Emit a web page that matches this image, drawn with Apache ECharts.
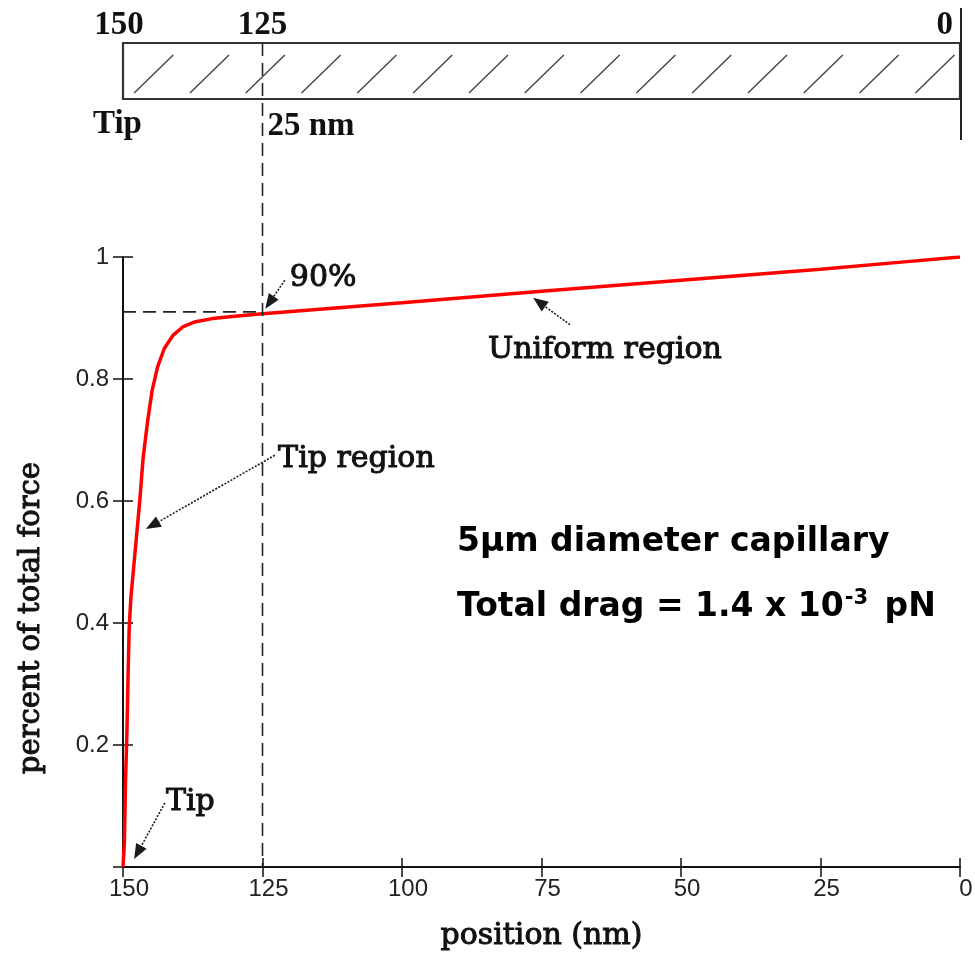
<!DOCTYPE html>
<html>
<head>
<meta charset="utf-8">
<script src="https://cdn.jsdelivr.net/npm/echarts@6/dist/echarts.min.js"></script>
<style>
  html, body { margin: 0; padding: 0; background: #fff; }
  #chart { width: 975px; height: 955px; }
</style>
</head>
<body>
<div id="chart"></div>
<script>
// Position along the capillary (nm, 150 = tip) and cumulative fraction of drag force
const positionNm = [150, 149.75, 149.55, 149.3, 149.1, 148.9, 148.6, 148.2, 147.7, 147.0, 146.4,
  145.6, 144.8, 143.8, 142.6, 141.0, 139.2, 137.0, 134.0, 130.0, 125.0, 100, 75, 50, 25, 10, 0];
const forceFraction = [0, 0.04, 0.14, 0.22, 0.31, 0.39, 0.44, 0.48, 0.53, 0.60, 0.67,
  0.73, 0.78, 0.82, 0.85, 0.872, 0.886, 0.894, 0.899, 0.903, 0.907, 0.925, 0.944, 0.962, 0.980, 0.992, 1.0];

// Axis ranges
const xRange = [0, 150];
const xStep = 25;
const yRange = [0, 1];
const yStep = 0.2;

// Tip-region boundary and the force fraction reached there
const tipBoundary = 125;
const tipFraction = 0.91;

// Hatch marks across the capillary sketch (start positions, nm)
const hatchStarts = [148, 138, 128, 118, 108, 98, 88, 78, 68, 58, 48, 38, 28, 18, 8];
const hatchSpan = 7;

// Sketch labels above the bar
const sketchTicks = ['150', '125', '0'];

const serif = '"DejaVu Serif", serif';
const sans = '"Liberation Sans", Arial, sans-serif';

const chart = echarts.init(document.getElementById('chart'), null, { renderer: 'canvas' });

const axisBase = {
  type: 'value',
  min: xRange[0], max: xRange[1], interval: xStep,
  inverse: true,
  splitLine: { show: false }
};
const yBase = {
  type: 'value',
  min: yRange[0], max: yRange[1], interval: yStep,
  splitLine: { show: false }
};

chart.setOption({
  animation: false,
  backgroundColor: '#fff',
  grid: { left: 123, right: 15, top: 257, bottom: 88, containLabel: false, outerBoundsMode: 'none' },
  xAxis: [
    Object.assign({}, axisBase, {
      position: 'bottom',
      name: 'position (nm)',
      nameLocation: 'middle',
      nameGap: 54,
      nameTextStyle: { fontFamily: serif, fontSize: 30, color: '#111', textBorderColor: '#111', textBorderWidth: 1 },
      axisLine: { show: true, onZero: false, lineStyle: { color: '#111', width: 2 } },
      axisTick: { show: true, inside: false, length: 10, lineStyle: { color: '#111', width: 1.5 } },
      axisLabel: { show: true, margin: 10, padding: [0, 0, 0, 12], fontFamily: sans, fontSize: 24, color: '#222' }
    }),
    Object.assign({}, axisBase, {
      position: 'bottom',
      axisLine: { show: false, onZero: false },
      axisTick: { show: true, inside: true, length: 9, lineStyle: { color: '#111', width: 1.5 } },
      axisLabel: { show: false }
    })
  ],
  yAxis: [
    Object.assign({}, yBase, {
      position: 'left',
      axisLine: { show: true, onZero: false, lineStyle: { color: '#111', width: 2 } },
      axisTick: { show: true, inside: false, length: 10, lineStyle: { color: '#111', width: 1.5 } },
      axisLabel: {
        show: true, margin: 14, fontFamily: sans, fontSize: 24, color: '#222',
        formatter: v => (v === 0 ? '' : String(+v.toFixed(1)))
      }
    }),
    Object.assign({}, yBase, {
      position: 'left',
      offset: 0,
      axisLine: { show: false, onZero: false },
      axisTick: { show: true, inside: true, length: 10, lineStyle: { color: '#111', width: 1.5 } },
      axisLabel: { show: false }
    })
  ],
  series: [{
    type: 'line',
    xAxisIndex: 0,
    yAxisIndex: 0,
    data: positionNm.map((p, i) => [p, forceFraction[i]]),
    showSymbol: false,
    smooth: false,
    lineStyle: { color: '#ff0000', width: 3.5 },
    z: 5
  }]
});

// Pixel helper on the main grid
const px = (x, y) => chart.convertToPixel({ gridIndex: 0 }, [x, y]);
const xPx = x => px(x, 0)[0];

const dark = '#1a1a1a';
const annFont = '30px ' + serif;
const gfx = [];

// Dotted arrow with a solid head, given in data coordinates
function arrow(tail, head) {
  const [x1, y1] = px(tail[0], tail[1]);
  const [x2, y2] = px(head[0], head[1]);
  const a = Math.atan2(y2 - y1, x2 - x1);
  const L = 15, W = 6;
  const bx = x2 - Math.cos(a) * L, by = y2 - Math.sin(a) * L;
  const nx = -Math.sin(a), ny = Math.cos(a);
  gfx.push({
    type: 'line', z: 20,
    shape: { x1, y1, x2: bx, y2: by },
    style: { stroke: dark, lineWidth: 1.6, lineDash: [2, 1.5] }
  });
  gfx.push({
    type: 'polygon', z: 20,
    shape: { points: [[x2, y2], [bx + nx * W, by + ny * W], [bx - nx * W, by - ny * W]] },
    style: { fill: dark }
  });
}

function label(text, xv, yv) {
  const [x, y] = px(xv, yv);
  gfx.push({
    type: 'text', z: 20, x, y,
    style: {
      text, fill: '#111', stroke: '#111', lineWidth: 1,
      font: annFont, align: 'left', verticalAlign: 'middle'
    }
  });
}

// Y axis title, centred on the lower part of the axis
gfx.push({
  type: 'text', z: 20, x: 31, y: 618, rotation: Math.PI / 2,
  style: {
    text: 'percent of total force', fill: '#111', stroke: '#111', lineWidth: 1,
    font: '29px ' + serif, align: 'center', verticalAlign: 'middle'
  }
});

// Dashed guides at the tip-region boundary
const [bx125, by91] = px(tipBoundary, tipFraction);
const [, yBottom] = px(tipBoundary, 0);
const barTop = 43, barBottom = 99;
gfx.push({
  type: 'line', z: 10,
  shape: { x1: bx125, y1: barTop, x2: bx125, y2: yBottom },
  style: { stroke: '#222', lineWidth: 1.6, lineDash: [13, 7] }
});
gfx.push({
  type: 'line', z: 10,
  shape: { x1: xPx(150), y1: by91, x2: bx125, y2: by91 },
  style: { stroke: '#222', lineWidth: 1.6, lineDash: [13, 7] }
});

// Capillary sketch: bar, hatch marks and end line
const left = xPx(150), right = xPx(0);
gfx.push({
  type: 'rect', z: 10,
  shape: { x: left, y: barTop, width: right - left, height: barBottom - barTop },
  style: { fill: 'none', stroke: '#333', lineWidth: 2.2 }
});
hatchStarts.forEach(h => {
  gfx.push({
    type: 'line', z: 10,
    shape: { x1: xPx(h), y1: barBottom - 6, x2: xPx(h - hatchSpan), y2: barTop + 12 },
    style: { stroke: '#444', lineWidth: 1.4 }
  });
});
gfx.push({
  type: 'line', z: 10,
  shape: { x1: right + 1, y1: 8, x2: right + 1, y2: 140 },
  style: { stroke: '#222', lineWidth: 2 }
});
const topFont = 'bold 33px "Liberation Serif", "Times New Roman", serif';
gfx.push({ type: 'text', z: 20, x: xPx(150) - 4, y: 25,
  style: { text: sketchTicks[0], font: topFont, fill: '#111', align: 'center', verticalAlign: 'middle' } });
gfx.push({ type: 'text', z: 20, x: xPx(125), y: 25,
  style: { text: sketchTicks[1], font: topFont, fill: '#111', align: 'center', verticalAlign: 'middle' } });
gfx.push({ type: 'text', z: 20, x: xPx(0) - 7, y: 25,
  style: { text: sketchTicks[2], font: topFont, fill: '#111', align: 'right', verticalAlign: 'middle' } });
gfx.push({ type: 'text', z: 20, x: 93, y: 124,
  style: { text: 'Tip', font: topFont, fill: '#111', align: 'left', verticalAlign: 'middle' } });
gfx.push({ type: 'text', z: 20, x: xPx(125) + 5, y: 126,
  style: { text: '25 nm', font: topFont, fill: '#111', align: 'left', verticalAlign: 'middle' } });

// Annotations on the curve
label('90%', 120.1, 0.966);
arrow([121.0, 0.962], [124.5, 0.915]);
label('Uniform region', 84.6, 0.848);
arrow([69.9, 0.889], [76.5, 0.933]);
label('Tip region', 122.2, 0.669);
arrow([122.8, 0.675], [145.9, 0.554]);
label('Tip', 142.3, 0.106);
arrow([142.5, 0.105], [148.0, 0.013]);

// Capillary summary text
const boldSans = 'bold 33px "DejaVu Sans", Verdana, sans-serif';
gfx.push({ type: 'text', z: 20, x: 457, y: 542,
  style: { text: '5\u03bcm diameter capillary', font: boldSans, fill: '#000', align: 'left', verticalAlign: 'middle' } });
gfx.push({ type: 'text', z: 20, x: 457, y: 607,
  style: {
    text: '{a|Total drag = 1.4 x 10}{s|-3}{a| pN}',
    align: 'left', verticalAlign: 'middle',
    rich: {
      a: { font: boldSans, fill: '#000' },
      s: { font: 'bold 21px "DejaVu Sans", Verdana, sans-serif', fill: '#000', verticalAlign: 'top', padding: [0, 5, 16, 1] }
    }
  } });

chart.setOption({ graphic: gfx });
</script>
</body>
</html>
